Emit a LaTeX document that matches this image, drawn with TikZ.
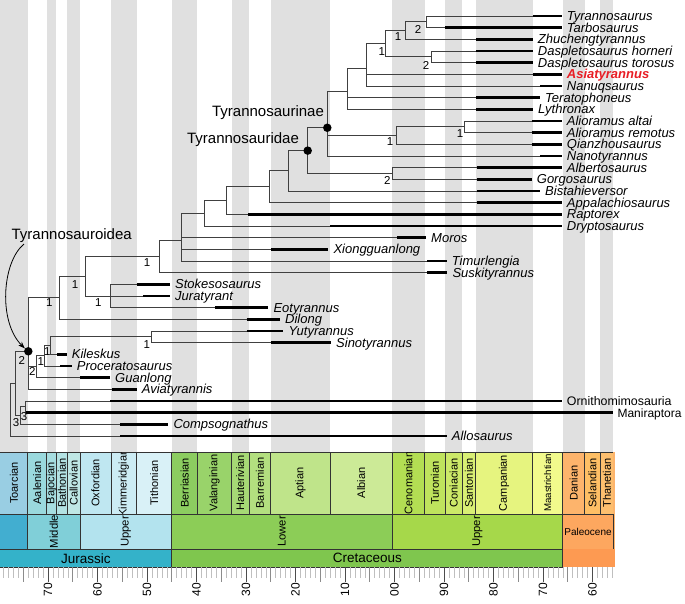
\documentclass[tikz,border=0pt]{standalone}
\usepackage{fontspec}
\setmainfont{Liberation Sans}
\usepackage{tikz}
\usetikzlibrary{arrows.meta}
% stage colours (ICS), named as the stages
\definecolor{Toarcian}{RGB}{153,206,227}
\definecolor{Aalenian}{RGB}{154,217,221}
\definecolor{Bajocian}{RGB}{166,221,224}
\definecolor{Bathonian}{RGB}{179,226,227}
\definecolor{Callovian}{RGB}{191,231,229}
\definecolor{Oxfordian}{RGB}{191,231,241}
\definecolor{Kimmeridgian}{RGB}{204,236,244}
\definecolor{Tithonian}{RGB}{217,241,247}
\definecolor{Berriasian}{RGB}{140,205,96}
\definecolor{Valanginian}{RGB}{153,211,106}
\definecolor{Hauterivian}{RGB}{166,217,117}
\definecolor{Barremian}{RGB}{179,223,127}
\definecolor{Aptian}{RGB}{191,228,138}
\definecolor{Albian}{RGB}{204,234,151}
\definecolor{Cenomanian}{RGB}{179,222,83}
\definecolor{Turonian}{RGB}{191,227,93}
\definecolor{Coniacian}{RGB}{204,233,104}
\definecolor{Santonian}{RGB}{217,239,116}
\definecolor{Campanian}{RGB}{230,244,127}
\definecolor{Maastrichtian}{RGB}{242,250,140}
\definecolor{Danian}{RGB}{253,180,108}
\definecolor{Selandian}{RGB}{254,191,101}
\definecolor{Thanetian}{RGB}{253,191,111}
% epoch and period colours
\definecolor{lowjur}{RGB}{66,174,208}
\definecolor{midjur}{RGB}{128,207,216}
\definecolor{upjur}{RGB}{179,227,238}
\definecolor{lowcret}{RGB}{140,205,87}
\definecolor{upcret}{RGB}{166,216,74}
\definecolor{paleocene}{RGB}{253,167,95}
\definecolor{eocene}{RGB}{253,180,108}
\definecolor{jurassic}{RGB}{52,178,201}
\definecolor{cretaceous}{RGB}{127,198,78}
\definecolor{paleogene}{RGB}{253,154,82}
\definecolor{highlight}{RGB}{232,30,37}

\begin{document}
\begin{tikzpicture}[x=1pt, y=-1pt,
    declare function={R(\rr)=16+(\rr-1)*11.667; X(\ma)=48+(170-\ma)*4.95;},
    branch/.style={line width=0.9pt, black!75},
    rangebar/.style={line width=2.6pt, black},
    taxon/.style={anchor=base west, inner sep=0pt, xshift=5pt, yshift=-4.4pt,
      font=\fontsize{13}{15}\selectfont\itshape},
    group/.style={taxon, font=\fontsize{12.4}{15}\selectfont},
    bremer/.style={inner sep=0pt, font=\fontsize{11.5}{13}\selectfont},
    clade/.style={inner sep=0pt, font=\fontsize{15}{17}\selectfont},
    cladedot/.style={circle, fill=black, inner sep=0pt, minimum size=8.5pt},
    stripe/.style={fill=black!12},
    cell/.style={draw=black!80, line width=0.7pt},
    stagetext/.style={rotate=90, inner sep=0pt, font=\fontsize{11}{12}\selectfont},
    epochtext/.style={rotate=90, inner sep=0pt, font=\fontsize{11.3}{12}\selectfont},
    periodtext/.style={inner sep=0pt, font=\fontsize{13.5}{15}\selectfont},
    tickminor/.style={black!25, line width=0.6pt},
    tickmid/.style={black!45, line width=0.8pt},
    tickmajor/.style={black!70, line width=0.9pt},
    ticklabel/.style={rotate=90, anchor=east, inner sep=0pt, font=\fontsize{12}{14}\selectfont}]
  \useasboundingbox (0,0) rectangle (685,603);

  \begin{scope}
    \clip (0,0) rectangle (685,603);
    % Stage stripes
    \foreach \a/\b in {182.7/174.1, 170.3/168.3, 166.1/163.5, 157.3/152.1,
        145/139.8, 132.9/129.4, 125/113, 100.5/93.9, 89.8/86.3, 83.6/72.1,
        66/61.6, 58.4/55.8}
      \fill[stripe] ({X(\a)},0) rectangle ({X(\b)},452.3);

    % Stages
    \foreach \nm/\a/\b in {Toarcian/182.7/174.1, Aalenian/174.1/170.3,
        Bajocian/170.3/168.3, Bathonian/168.3/166.1, Callovian/166.1/163.5,
        Oxfordian/163.5/157.3, Kimmeridgian/157.3/152.1, Tithonian/152.1/145,
        Berriasian/145/139.8, Valanginian/139.8/132.9, Hauterivian/132.9/129.4,
        Barremian/129.4/125, Aptian/125/113, Albian/113/100.5,
        Cenomanian/100.5/93.9, Turonian/93.9/89.8, Coniacian/89.8/86.3,
        Santonian/86.3/83.6, Campanian/83.6/72.1, Maastrichtian/72.1/66,
        Danian/66/61.6, Selandian/61.6/58.4, Thanetian/58.4/55.8} {
      \fill[fill=\nm] ({X(\a)},452.3) rectangle ({X(\b)},514);
      \draw[cell] ({X(\a)},452.3) rectangle ({X(\b)},514);
    }
    \fill[eocene] ({X(55.8)},452.3) rectangle ({X(55.4)},549);
    \begin{scope}
      \clip (0,452.3) rectangle (685,514);
      \foreach \nm/\a/\b in {Toarcian/182.7/174.1, Aalenian/174.1/170.3,
          Bajocian/170.3/168.3, Bathonian/168.3/166.1, Callovian/166.1/163.5,
          Oxfordian/163.5/157.3, Kimmeridgian/157.3/152.1, Tithonian/152.1/145,
          Berriasian/145/139.8, Valanginian/139.8/132.9, Hauterivian/132.9/129.4,
          Barremian/129.4/125, Aptian/125/113, Albian/113/100.5,
          Cenomanian/100.5/93.9, Turonian/93.9/89.8, Coniacian/89.8/86.3,
          Santonian/86.3/83.6, Campanian/83.6/72.1,
          Danian/66/61.6, Selandian/61.6/58.4, Thanetian/58.4/55.8}
        \node[stagetext] (s-\nm) at ({(max(X(\a),0)+X(\b))/2},483) {\nm};
      \node[stagetext, font=\fontsize{9.7}{11}\selectfont] (s-Maastrichtian)
        at ({(X(72.1)+X(66))/2},483) {Maastrichtian};
    \end{scope}

    % Epochs
    \fill[lowjur] ({X(182.7)},514) rectangle ({X(174.1)},549);
    \draw[cell] ({X(182.7)},514) rectangle ({X(174.1)},549);
    \foreach \nm/\a/\b/\col/\txt in {mj/174.1/163.5/midjur/Middle,
        uj/163.5/145/upjur/Upper, lk/145/100.5/lowcret/Lower,
        uk/100.5/66/upcret/Upper} {
      \fill[fill=\col] ({X(\a)},514) rectangle ({X(\b)},549);
      \draw[cell] ({X(\a)},514) rectangle ({X(\b)},549);
      \node[epochtext] (e-\nm) at ({(X(\a)+X(\b))/2},531.5) {\txt};
    }
    \fill[paleocene] ({X(66)},514) rectangle ({X(55.8)},549);
    \draw[cell] ({X(66)},514) rectangle ({X(55.8)},549);
    \node[inner sep=0pt, font=\fontsize{10}{12}\selectfont] (e-pal)
      at ({(X(66)+X(55.8))/2},531.5) {Paleocene};

    % Periods
    \fill[jurassic] ({X(182.7)},549) rectangle ({X(145)},567.3);
    \fill[cretaceous] ({X(145)},549) rectangle ({X(66)},567.3);
    \fill[paleogene] ({X(66)},549) rectangle ({X(55.4)},567.3);
    \draw[cell] ({X(182.7)},549) rectangle ({X(145)},567.3);
    \draw[cell] ({X(145)},549) rectangle ({X(66)},567.3);
    \draw[cell] ({X(66)},549) -- ({X(66)},567.3);
    \node[periodtext] (p-jur) at ({X(145)/2},558.2) {Jurassic};
    \node[periodtext] (p-cre) at ({(X(145)+X(66))/2},558.2) {Cretaceous};

    % Time axis
    \foreach \m in {56,...,179}
      \draw[tickminor] ({X(\m)},567.3) -- ++(0,10.5);
    \foreach \m in {65,75,...,175}
      \draw[tickmid] ({X(\m)},567.3) -- ++(0,14.5);
    \foreach \m/\lab in {170/70, 160/60, 150/50, 140/40, 130/30, 120/20,
        110/10, 100/00, 90/90, 80/80, 70/70, 60/60} {
      \draw[tickmajor] ({X(\m)},567.3) -- ++(0,14.5);
      \node[ticklabel] (t\m) at ({X(\m)},583) {\lab};
    }
  \end{scope}

  % Tips: name/row/range start/range end/label
  \foreach \nm/\rw/\st/\en/\txt in {
      tyr/1/532.7/561.7/Tyrannosaurus, tar/2/445.3/561.7/Tarbosaurus,
      zhu/3/476/532.7/Zhuchengtyrannus, dho/4/476/532.7/Daspletosaurus horneri,
      dto/5/476/532.7/Daspletosaurus torosus, nuq/7/540/561.7/Nanuqsaurus,
      ter/8/476/540/Teratophoneus, lyt/9/476/533/Lythronax,
      aal/10/531.7/561.7/Alioramus altai, are/11/531.7/561.7/Alioramus remotus,
      qia/12/531.7/561.7/Qianzhousaurus, nan/13/540/561.7/Nanotyrannus,
      alb/14/476.7/561.7/Albertosaurus, gor/15/476.7/531.7/Gorgosaurus,
      bis/16/476.7/540/Bistahieversor, app/17/476.7/561.7/Appalachiosaurus,
      rap/18/248.3/561.7/Raptorex, dry/19/330/561.7/Dryptosaurus,
      mor/20/397/426/Moros, xio/21/271/328.3/Xiongguanlong,
      tim/22/427.3/446.7/Timurlengia, sus/23/427.3/447.3/Suskityrannus,
      sto/24/136.7/170/Stokesosaurus, jur/25/143.3/170/Juratyrant,
      eot/26/215/268.3/Eotyrannus, dil/27/246.7/280/Dilong,
      yut/28/246.7/283.3/Yutyrannus, sin/29/270.7/331/Sinotyrannus,
      kil/30/56.7/66.7/Kileskus, pro/31/60/71.7/Proceratosaurus,
      gua/32/80/110/Guanlong, avi/33/111.7/136.7/Aviatyrannis,
      com/36/120/168.3/Compsognathus, all/37/120/446.7/Allosaurus} {
    \coordinate (\nm-s) at (\st,{R(\rw)});
    \coordinate (\nm-e) at (\en,{R(\rw)});
    \draw[rangebar] (\nm-s) -- (\nm-e);
    \node[taxon] (\nm) at (\nm-e) {\txt};
  }
  \coordinate (asi-s) at (532.7,{R(6)});
  \coordinate (asi-e) at (561.7,{R(6)});
  \draw[rangebar] (asi-s) -- (asi-e);
  \node[taxon, text=highlight, font=\fontsize{13}{15}\selectfont\bfseries\itshape]
    (asi) at (asi-e) {Asiatyrannus};
  \coordinate (orn-s) at (110,{R(34)});
  \coordinate (orn-e) at (561.7,{R(34)});
  \draw[rangebar] (orn-s) -- (orn-e);
  \node[group] (orn) at (orn-e) {Ornithomimosauria};
  \coordinate (man-s) at (25.5,{R(35)});
  \coordinate (man-e) at (613.3,{R(35)});
  \draw[rangebar] (man-s) -- (man-e);
  \node[group, xshift=-1pt, font=\fontsize{12}{14}\selectfont] (man) at (man-e) {Maniraptora};

  % Internal nodes (row = mean of children)
  \coordinate (nA) at (426,{R(1.5)});
  \coordinate (nB) at (405.7,{R(2.25)});
  \coordinate (nC) at (431.7,{R(4.5)});
  \coordinate (nD) at (385.3,{R(3.375)});
  \coordinate (nE) at (366.7,{R(5.4583)});
  \coordinate (nF) at (347,{R(7.4861)});
  \coordinate (nAl) at (464.3,{R(10.5)});
  \coordinate (nG) at (396.3,{R(11.25)});
  \coordinate (nT) at (327.3,{R(10.5787)});
  \coordinate (nH) at (392.5,{R(14.5)});
  \coordinate (nU) at (307.7,{R(12.5394)});
  \coordinate (nV) at (288.3,{R(14.2697)});
  \coordinate (nW) at (269,{R(15.6348)});
  \coordinate (nX) at (226.5,{R(16.8174)});
  \coordinate (nY) at (204.2,{R(17.9087)});
  \coordinate (nZ) at (181.7,{R(20.2272)});
  \coordinate (nS) at (159.2,{R(21.6136)});
  \coordinate (nQ) at (110,{R(25)});
  \coordinate (nR) at (85,{R(23.3068)});
  \coordinate (nN) at (59.3,{R(25.1534)});
  \coordinate (nYS) at (151.7,{R(28.5)});
  \coordinate (nK1) at (50.7,{R(29.25)});
  \coordinate (nK2) at (44.3,{R(30.125)});
  \coordinate (nK3) at (36,{R(31.0625)});
  \coordinate (nTR) at (28.3,{R(29.7386)});
  \coordinate (nM1) at (25,{R(34.5)});
  \coordinate (nM2) at (20.7,{R(35.25)});
  \coordinate (nM3) at (15,{R(32.4943)});
  \coordinate (nRoot) at (10,{R(34.7472)});

  % Branches
  \foreach \up/\dn in {nA/tyr-s, nA/tar-s, nB/nA, nB/zhu-s, nC/dho-s, nC/dto-s,
      nD/nB, nD/nC, nE/nD, nE/asi-s, nE/nuq-s, nF/nE, nF/ter-s, nF/lyt-s,
      nAl/aal-s, nAl/are-s, nG/nAl, nG/qia-s, nT/nF, nT/nG, nT/nan-s,
      nH/alb-s, nH/gor-s, nU/nT, nU/nH, nV/nU, nV/bis-s, nW/nV, nW/app-s,
      nX/nW, nX/rap-s, nY/nX, nY/dry-s, nZ/nY, nZ/mor-s, nZ/xio-s, nZ/tim-s,
      nS/nZ, nS/sus-s, nQ/sto-s, nQ/jur-s, nQ/eot-s, nR/nS, nR/nQ,
      nN/nR, nN/dil-s, nYS/yut-s, nYS/sin-s, nK1/nYS, nK1/kil-s,
      nK2/nK1, nK2/pro-s, nK3/nK2, nK3/gua-s, nTR/nN, nTR/nK3, nTR/avi-s,
      nM1/orn-s, nM1/man-s, nM2/nM1, nM2/com-s, nM3/nTR, nM3/nM2,
      nRoot/nM3, nRoot/all-s}
    \draw[branch] (\up) |- (\dn);

  % Named clades
  \node[cladedot] (dT) at (nT) {};
  \node[cladedot] (dU) at (nU) {};
  \node[cladedot] (dTR) at (nTR) {};
  \node[clade] (lT) at (268,112.7) {Tyrannosaurinae};
  \node[clade] (lU) at (243,139.3) {Tyrannosauridae};
  \node[clade] (lTR) at (71.7,236) {Tyrannosauroidea};
  \draw[-{Stealth[length=7pt,width=5pt]}, line width=0.8pt]
    (24,244) .. controls (2,262) and (-2,322) .. (dTR.140);

  % Bremer support
  \node[bremer] (bA) at (418,29) {2};
  \node[bremer] (bB) at (398,37) {1};
  \node[bremer] (bC) at (426,65) {2};
  \node[bremer] (bD) at (381.7,52) {1};
  \node[bremer] (bG) at (390,141.7) {1};
  \node[bremer] (bAl) at (460,133.3) {1};
  \node[bremer] (bH) at (387.3,180.7) {2};
  \node[bremer] (bS) at (147,262.5) {1};
  \node[bremer] (bR) at (75,285) {1};
  \node[bremer] (bQ) at (98.3,302.7) {1};
  \node[bremer] (bN) at (49.3,302.7) {1};
  \node[bremer] (bYS) at (146.7,345) {1};
  \node[bremer] (bK1) at (47.3,351.7) {1};
  \node[bremer] (bK2) at (40.7,361.7) {1};
  \node[bremer] (bK3) at (32.3,371.7) {2};
  \node[bremer] (bTR) at (21.7,360) {2};
  \node[bremer] (bM1) at (24,416.7) {3};
  \node[bremer] (bM2) at (16,423) {3};
\end{tikzpicture}
\end{document}
